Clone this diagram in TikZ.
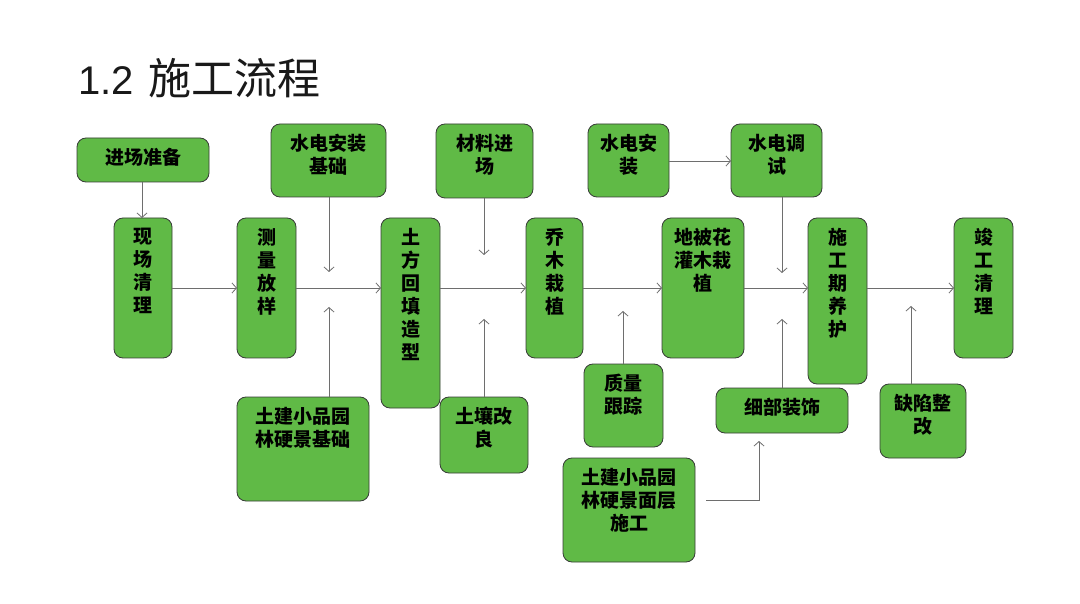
\documentclass[tikz,border=0pt]{standalone}
\usepackage{fontspec}
\newfontfamily\cjk{Noto Sans CJK SC}
\newfontfamily\titlelat{Liberation Sans}
\usetikzlibrary{arrows.meta,calc}
\definecolor{boxgreen}{RGB}{96,186,70}
\definecolor{boxline}{RGB}{55,60,55}
\definecolor{arrgray}{RGB}{110,110,110}
\definecolor{titlecol}{RGB}{25,25,25}
\newcommand{\flowbox}[6]{%
  \node[box, minimum width={(#4-#2)*1pt}, minimum height={(#5-#3)*1pt}] (#1) at (#2,#3) {};
  \node[lbl] (#1-t) at ([yshift=-10pt]#1.north) {#6};}
\begin{document}
\begin{tikzpicture}[x=1pt,y=-1pt,
  box/.style={draw=boxline, line width=0.8pt, fill=boxgreen, rounded corners=9pt, inner sep=0pt, outer sep=0pt, anchor=north west},
  lbl/.style={anchor=north, inner sep=0pt, align=center, font=\cjk\bfseries\fontsize{19}{23}\selectfont, text=black},
  arr/.style={draw=arrgray, line width=0.8pt, -{Straight Barb[length=4.5pt,width=10pt]}}]
\useasboundingbox[fill=white] (0,0) rectangle (1080,604);

\node[anchor=base west, inner sep=0pt, text=titlecol] (title) at (78,95)
  {\titlelat\fontsize{40}{48}\selectfont 1.2\hspace{15pt}\cjk\fontsize{43}{48}\selectfont 施工流程};

% boxes
\flowbox{jczb}{77}{138}{209}{182}{进场准备}
\flowbox{xcql}{114}{218}{172}{358}{现\\场\\清\\理}
\flowbox{clfy}{237}{218}{296}{358}{测\\量\\放\\样}
\flowbox{sdjc}{271}{124}{386}{197}{水电安装\\基础}
\flowbox{tfht}{381}{218}{440}{408}{土\\方\\回\\填\\造\\型}
\flowbox{cljc}{436}{124}{533}{198}{材料进\\场}
\flowbox{qmzz}{526}{218}{583}{358}{乔\\木\\栽\\植}
\flowbox{sdaz}{588}{124}{669}{197}{水电安\\装}
\flowbox{sdts}{731}{124}{822}{197}{水电调\\试}
\flowbox{dbzz}{662}{218}{744}{358}{地被花\\灌木栽\\植}
\flowbox{sgyh}{808}{218}{867}{384}{施\\工\\期\\养\\护}
\flowbox{jgql}{954}{218}{1013}{358}{竣\\工\\清\\理}
\flowbox{tjjc}{237}{397}{369}{501}{土建小品园\\林硬景基础}
\flowbox{trgl}{440}{397}{528}{473}{土壤改\\良}
\flowbox{zlgz}{584}{364}{663}{447}{质量\\跟踪}
\flowbox{xbzs}{716}{388}{848}{433}{细部装饰}
\flowbox{qxzg}{880}{384}{966}{458}{缺陷整\\改}
\flowbox{tjmc}{563}{458}{695}{562}{土建小品园\\林硬景面层\\施工}

% free ends of the side arrows
\coordinate (m) at (0,288);
\coordinate (a1) at (329,272);
\coordinate (b1) at (329,307);
\coordinate (a2) at (484,255);
\coordinate (b2) at (484,319);
\coordinate (b3) at (623,311);
\coordinate (a4) at (782,273);
\coordinate (b4) at (782,319);
\coordinate (b5) at (911,306);
\coordinate (s6) at (706,500);
\coordinate (k6) at (759,500);
\coordinate (e6) at (759,441);

% main chain
\draw[arr] (jczb.south -| 142,0) -- (xcql.north -| 142,0);
\draw[arr] (xcql.east |- m) -- (clfy.west |- m);
\draw[arr] (clfy.east |- m) -- (tfht.west |- m);
\draw[arr] (tfht.east |- m) -- (qmzz.west |- m);
\draw[arr] (qmzz.east |- m) -- (dbzz.west |- m);
\draw[arr] (dbzz.east |- m) -- (sgyh.west |- m);
\draw[arr] (sgyh.east |- m) -- (jgql.west |- m);

% side inputs
\draw[arr] (sdjc.south -| a1) -- (a1);
\draw[arr] (tjjc.north -| b1) -- (b1);
\draw[arr] (cljc.south -| a2) -- (a2);
\draw[arr] (trgl.north -| b2) -- (b2);
\draw[arr] (zlgz.north -| b3) -- (b3);
\draw[arr] (sdaz.east |- 0,161) -- (sdts.west |- 0,161);
\draw[arr] (sdts.south -| a4) -- (a4);
\draw[arr] (xbzs.north -| b4) -- (b4);
\draw[arr] (qxzg.north -| b5) -- (b5);
\draw[arr] (s6) -- (k6) -- (e6);
\end{tikzpicture}
\end{document}
